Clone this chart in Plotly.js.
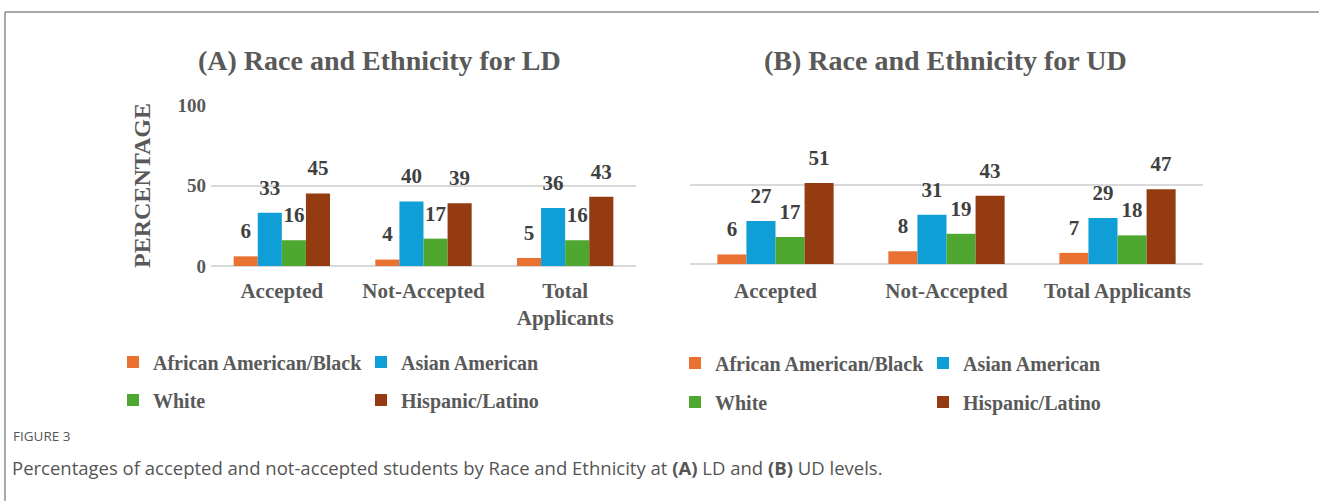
<!DOCTYPE html>
<html>
<head>
<meta charset="utf-8">
<script src="https://cdn.plot.ly/plotly-3.0.1.min.js"></script>
<style>
html,body{margin:0;padding:0;background:#fff;}
#chart{width:1319px;height:501px;}
</style>
</head>
<body>
<div id="chart"></div>
<script>
// ---- data ----
const categoriesLD = ['Accepted', 'Not-Accepted', 'Total<br>Applicants'];
const categoriesUD = ['Accepted', 'Not-Accepted', 'Total Applicants'];
const seriesNames = ['African American/Black', 'Asian American', 'White', 'Hispanic/Latino'];
const blackLD = [6, 4, 5];
const asianLD = [33, 40, 36];
const whiteLD = [16, 17, 16];
const hispanicLD = [45, 39, 43];
const blackUD = [6, 8, 7];
const asianUD = [27, 31, 29];
const whiteUD = [17, 19, 18];
const hispanicUD = [51, 43, 47];
const titleLD = '(A) Race and Ethnicity for LD';
const titleUD = '(B) Race and Ethnicity for UD';
const yTicks = [0, 50, 100];
const figureLabel = 'FIGURE 3';
const caption = 'Percentages of accepted and not-accepted students by Race and Ethnicity at <b>(A)</b> LD and <b>(B)</b> UD levels.';

// ---- style ----
const W = 1319, H = 501;
const px = x => x / W;
const py = y => 1 - y / H;
const colors = ['#E97132', '#0F9ED5', '#4EA72E', '#953B12'];
const serif = '"Liberation Serif", "Times New Roman", serif';
const grey = '#595959';
const labelColor = '#404040';
const GAP = 0.32;

const valuesLD = [blackLD, asianLD, whiteLD, hispanicLD];
const valuesUD = [blackUD, asianUD, whiteUD, hispanicUD];

const traces = [];
function addPanel(cats, vals, xa, ya, legends) {
  vals.forEach((v, i) => {
    traces.push({
      type: 'bar', x: cats, y: v, name: seriesNames[i],
      xaxis: xa, yaxis: ya,
      marker: {color: colors[i], line: {width: 0}},
      legend: legends[i < 2 ? 0 : 1],
      hoverinfo: 'x+y+name'
    });
  });
  vals.forEach((v, i) => {
    traces.push({
      type: 'scatter', mode: 'markers+text', x: cats, y: v,
      text: v.map(String), textposition: 'top center',
      textfont: {family: serif, size: 21, color: labelColor, weight: 'bold'},
      marker: {size: 19, opacity: 0, color: colors[i]},
      xaxis: xa, yaxis: ya, showlegend: false, hoverinfo: 'skip',
      cliponaxis: false
    });
  });
}
addPanel(categoriesLD, valuesLD, 'x', 'y', ['legend', 'legend2']);
addPanel(categoriesUD, valuesUD, 'x2', 'y2', ['legend3', 'legend4']);

const axisFont = {family: serif, size: 21, color: grey, weight: 'bold'};
function xaxis(domain, anchor, standoff) {
  return {domain: domain, anchor: anchor, type: 'category', showgrid: false,
    showline: false, zeroline: false, ticks: '', tickfont: axisFont,
    ticklabelstandoff: standoff, fixedrange: true};
}
function yaxis(domain, anchor, showLabels) {
  return {domain: domain, anchor: anchor, range: [0, 100], tickvals: yTicks,
    showgrid: true, gridcolor: '#D9D9D9', gridwidth: 2,
    zeroline: true, zerolinecolor: '#D9D9D9', zerolinewidth: 2,
    showline: false, ticks: '', showticklabels: showLabels,
    tickfont: {family: serif, size: 19, color: grey, weight: 'bold'},
    ticklabelstandoff: 4, fixedrange: true};
}

function legend(x, y) {
  return {x: px(x), y: py(y), xanchor: 'left', yanchor: 'middle',
    orientation: 'h', entrywidth: 203, entrywidthmode: 'pixels',
    font: {family: serif, size: 20, color: grey, weight: 'bold'},
    bgcolor: 'rgba(0,0,0,0)', itemclick: false, itemdoubleclick: false,
    itemwidth: 30, tracegroupgap: 0};
}

const layout = {
  width: W, height: H,
  margin: {l: 0, r: 0, t: 0, b: 0},
  paper_bgcolor: '#fff', plot_bgcolor: 'rgba(0,0,0,0)',
  barmode: 'group', bargap: GAP, bargroupgap: 0,
  scattermode: 'group', scattergap: GAP,
  showlegend: true,
  xaxis: xaxis([px(211), px(636)], 'y', 10),
  yaxis: Object.assign(yaxis([py(266), py(105)], 'x', true), {
    title: {text: 'PERCENTAGE', font: {family: serif, size: 24, color: grey, weight: 'bold'}, standoff: 20}
  }),
  xaxis2: xaxis([px(690), px(1203)], 'y2', 12),
  yaxis2: yaxis([py(264), py(105)], 'x2', false),
  legend: legend(113, 362),
  legend2: legend(113, 400),
  legend3: legend(675, 363),
  legend4: legend(675, 402),
  annotations: [
    {text: titleLD, x: px(379), y: py(60), xref: 'paper', yref: 'paper', xanchor: 'center', yanchor: 'middle', showarrow: false,
     font: {family: serif, size: 28, color: grey, weight: 'bold'}},
    {text: titleUD, x: px(945), y: py(60), xref: 'paper', yref: 'paper', xanchor: 'center', yanchor: 'middle', showarrow: false,
     font: {family: serif, size: 28, color: grey, weight: 'bold'}},
    {text: figureLabel, x: px(11), y: py(436), xref: 'paper', yref: 'paper', xanchor: 'left', yanchor: 'middle', showarrow: false,
     font: {family: '"Open Sans", sans-serif', size: 13.5, color: '#555555'}},
    {text: caption, x: px(10), y: py(467), xref: 'paper', yref: 'paper', xanchor: 'left', yanchor: 'middle', showarrow: false,
     font: {family: '"Open Sans", sans-serif', size: 18.5, color: '#555555'}}
  ],
  shapes: [
    {type: 'line', xref: 'paper', yref: 'paper', x0: px(5), x1: 1, y0: py(12), y1: py(12), line: {color: '#8C8C8C', width: 1.5}},
    {type: 'line', xref: 'paper', yref: 'paper', x0: px(5), x1: px(5), y0: py(12), y1: 0, line: {color: '#8C8C8C', width: 1.5}}
  ]
};

Plotly.newPlot('chart', traces, layout, {displayModeBar: false, staticPlot: false, responsive: false});
</script>
</body>
</html>
